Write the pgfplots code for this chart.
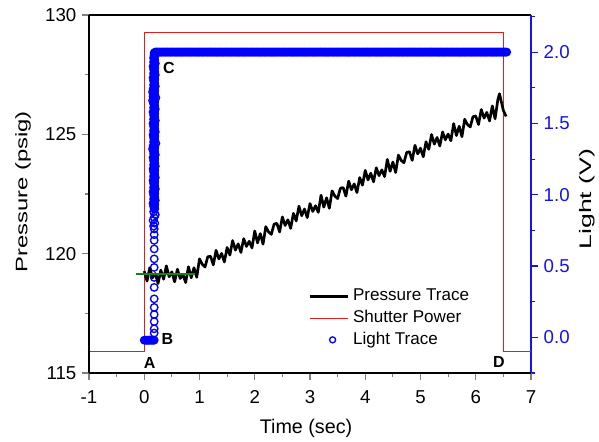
\documentclass[border=0pt]{standalone}
\usepackage{pgfplots}
\pgfplotsset{compat=1.18}
\usepackage{fontspec}
\setmainfont{Liberation Sans}
\usepackage{graphicx}
\definecolor{myred}{RGB}{225,30,30}
\definecolor{mygreen}{RGB}{20,130,20}
\definecolor{myblue}{RGB}{0,0,255}
\definecolor{axblue}{RGB}{20,20,230}
\pgfplotsset{
  longline/.style={legend image code/.code={\draw[##1] (0pt,0pt) -- (29pt,0pt);}},
  circlelegend/.style={legend image code/.code={\node[draw=myblue, circle, line width=1pt, inner sep=0pt, text height=0pt, text depth=0pt, minimum size=4.5pt] at (14.5pt,0pt) {};}},
  commonax/.style={
    scale only axis, width=331.5pt, height=268.5pt,
    xmin=-1, xmax=7,
    /pgf/number format/assume math mode=true,
    tick label style={font=\fontsize{14pt}{16pt}\selectfont},
    tick align=outside,
    major tick length=5pt, minor tick length=3pt,
    tick style={line width=0.8pt},
    axis line style={-, line width=0.9pt},
  },
}
\begin{document}
\begin{tikzpicture}
% right axis: light and shutter power
\begin{axis}[commonax,
  ymin=-0.25, ymax=2.26,
  axis x line*=top, xtick=\empty,
  axis y line*=right,
  x axis line style={black},
  y axis line style={axblue},
  ytick={0,0.5,1,1.5,2},
  minor ytick={-0.25,0.25,0.75,1.25,1.75,2.25},
  y tick style={axblue},
  yticklabel style={axblue, xshift=1pt, /pgf/number format/.cd, fixed, fixed zerofill, precision=1},
  ylabel={\scalebox{1.6}[1]{Light (V)}},
  ylabel style={at={(axis description cs:1.1267,0.486)}, anchor=center, font=\fontsize{12.5pt}{15pt}\selectfont},
  legend style={draw=none, fill=none, at={(axis description cs:0.4955,0.238)}, anchor=north west,
    font=\fontsize{12.8pt}{14pt}\selectfont, inner sep=0pt, row sep=3.8pt,
    nodes={inner xsep=2.6pt, inner ysep=0.5pt, text height=9pt, text depth=2.5pt}},
  legend cell align=left,
]
\addlegendimage{black, line width=2pt, longline}
\addlegendentry{Pressure Trace}
\addplot[myred, line width=0.8pt, longline] coordinates {(-1,-0.1)(0,-0.1)(0,2.14)(6.51,2.14)(6.51,-0.1)(7,-0.1)};
\addlegendentry{Shutter Power}
\addplot[only marks, mark=o, mark size=2.8pt, mark options={line width=1pt, myblue}, forget plot] coordinates {
(0.00,-0.02)(0.02,-0.02)(0.04,-0.02)(0.06,-0.02)(0.08,-0.02)(0.10,-0.02)(0.12,-0.02)(0.14,-0.02)(0.16,-0.02)(0.18,-0.02)
(0.18,0.03)(0.18,0.06)(0.18,0.11)(0.18,0.16)(0.18,0.21)(0.18,0.27)(0.18,0.35)(0.18,0.42)(0.18,0.49)(0.18,0.55)(0.18,0.62)(0.18,0.68)(0.18,0.72)
(0.18,0.76)(0.17,0.78)(0.19,0.80)(0.16,0.82)(0.18,0.84)(0.20,0.86)(0.17,0.88)
(0.19,0.90)(0.18,0.91)(0.17,0.92)(0.19,0.93)(0.16,0.94)(0.18,0.95)(0.20,0.96)(0.17,0.97)(0.19,0.98)(0.18,0.99)
(0.17,1.00)(0.19,1.01)(0.16,1.02)(0.18,1.03)(0.20,1.04)(0.17,1.05)(0.19,1.06)(0.18,1.07)(0.17,1.08)(0.19,1.09)
(0.16,1.10)(0.18,1.11)(0.20,1.12)(0.17,1.13)(0.19,1.14)(0.18,1.15)(0.17,1.16)(0.19,1.17)(0.16,1.18)(0.18,1.19)
(0.20,1.20)(0.17,1.21)(0.19,1.22)(0.18,1.23)(0.17,1.24)(0.19,1.25)(0.16,1.26)(0.18,1.27)(0.20,1.28)(0.17,1.29)
(0.19,1.30)(0.18,1.31)(0.15,1.32)(0.19,1.33)(0.16,1.34)(0.18,1.35)(0.21,1.36)(0.17,1.37)(0.19,1.38)(0.18,1.39)
(0.17,1.40)(0.19,1.41)(0.16,1.42)(0.18,1.43)(0.20,1.44)(0.17,1.45)(0.19,1.46)(0.18,1.47)(0.17,1.48)(0.19,1.49)
(0.16,1.50)(0.18,1.51)(0.20,1.52)(0.17,1.53)(0.19,1.54)(0.18,1.55)(0.17,1.56)(0.19,1.57)(0.16,1.58)(0.18,1.59)
(0.20,1.60)(0.17,1.61)(0.19,1.62)(0.18,1.63)(0.17,1.64)(0.19,1.65)(0.15,1.66)(0.18,1.67)(0.21,1.68)(0.16,1.69)
(0.19,1.70)(0.18,1.71)(0.15,1.72)(0.19,1.73)(0.16,1.74)(0.18,1.75)(0.20,1.76)(0.17,1.77)(0.19,1.78)(0.18,1.79)
(0.17,1.80)(0.19,1.81)(0.16,1.82)(0.18,1.83)(0.20,1.84)(0.17,1.85)(0.19,1.86)(0.18,1.87)(0.17,1.88)(0.19,1.89)
(0.16,1.90)(0.18,1.91)(0.20,1.92)(0.17,1.93)(0.19,1.94)(0.18,1.95)(0.17,1.96)(0.19,1.97)(0.18,1.98)
(0.18,0.905)(0.18,0.915)(0.18,0.925)(0.18,0.935)(0.18,0.945)(0.18,0.955)(0.18,0.965)(0.18,0.975)(0.18,0.985)(0.18,0.995)
(0.18,1.005)(0.18,1.015)(0.18,1.025)(0.18,1.035)(0.18,1.045)(0.18,1.055)(0.18,1.065)(0.18,1.075)(0.18,1.085)(0.18,1.095)
(0.18,1.105)(0.18,1.115)(0.18,1.125)(0.18,1.135)(0.18,1.145)(0.18,1.155)(0.18,1.165)(0.18,1.175)(0.18,1.185)(0.18,1.195)
(0.18,1.205)(0.18,1.215)(0.18,1.225)(0.18,1.235)(0.18,1.245)(0.18,1.255)(0.18,1.265)(0.18,1.275)(0.18,1.285)(0.18,1.295)
(0.18,1.305)(0.18,1.315)(0.18,1.325)(0.18,1.335)(0.18,1.345)(0.18,1.355)(0.18,1.365)(0.18,1.375)(0.18,1.385)(0.18,1.395)
(0.18,1.405)(0.18,1.415)(0.18,1.425)(0.18,1.435)(0.18,1.445)(0.18,1.455)(0.18,1.465)(0.18,1.475)(0.18,1.485)(0.18,1.495)
(0.18,1.505)(0.18,1.515)(0.18,1.525)(0.18,1.535)(0.18,1.545)(0.18,1.555)(0.18,1.565)(0.18,1.575)(0.18,1.585)(0.18,1.595)
(0.18,1.605)(0.18,1.615)(0.18,1.625)(0.18,1.635)(0.18,1.645)(0.18,1.655)(0.18,1.665)(0.18,1.675)(0.18,1.685)(0.18,1.695)
(0.18,1.705)(0.18,1.715)(0.18,1.725)(0.18,1.735)(0.18,1.745)(0.18,1.755)(0.18,1.765)(0.18,1.775)(0.18,1.785)(0.18,1.795)
(0.18,1.805)(0.18,1.815)(0.18,1.825)(0.18,1.835)(0.18,1.845)(0.18,1.855)(0.18,1.865)(0.18,1.875)(0.18,1.885)(0.18,1.895)
(0.18,1.905)(0.18,1.915)(0.18,1.925)(0.18,1.935)(0.18,1.945)(0.18,1.955)(0.18,1.965)(0.18,1.975)(0.18,1.985)(0.18,1.995)
(0.20,2)(0.22,2)(0.24,2)(0.26,2)(0.28,2)(0.30,2)(0.32,2)(0.34,2)(0.36,2)(0.38,2)
(0.40,2)(0.42,2)(0.44,2)(0.46,2)(0.48,2)(0.50,2)(0.52,2)(0.54,2)(0.56,2)(0.58,2)
(0.60,2)(0.62,2)(0.64,2)(0.66,2)(0.68,2)(0.70,2)(0.72,2)(0.74,2)(0.76,2)(0.78,2)
(0.80,2)(0.82,2)(0.84,2)(0.86,2)(0.88,2)(0.90,2)(0.92,2)(0.94,2)(0.96,2)(0.98,2)
(1.00,2)(1.02,2)(1.04,2)(1.06,2)(1.08,2)(1.10,2)(1.12,2)(1.14,2)(1.16,2)(1.18,2)
(1.20,2)(1.22,2)(1.24,2)(1.26,2)(1.28,2)(1.30,2)(1.32,2)(1.34,2)(1.36,2)(1.38,2)
(1.40,2)(1.42,2)(1.44,2)(1.46,2)(1.48,2)(1.50,2)(1.52,2)(1.54,2)(1.56,2)(1.58,2)
(1.60,2)(1.62,2)(1.64,2)(1.66,2)(1.68,2)(1.70,2)(1.72,2)(1.74,2)(1.76,2)(1.78,2)
(1.80,2)(1.82,2)(1.84,2)(1.86,2)(1.88,2)(1.90,2)(1.92,2)(1.94,2)(1.96,2)(1.98,2)
(2.00,2)(2.02,2)(2.04,2)(2.06,2)(2.08,2)(2.10,2)(2.12,2)(2.14,2)(2.16,2)(2.18,2)
(2.20,2)(2.22,2)(2.24,2)(2.26,2)(2.28,2)(2.30,2)(2.32,2)(2.34,2)(2.36,2)(2.38,2)
(2.40,2)(2.42,2)(2.44,2)(2.46,2)(2.48,2)(2.50,2)(2.52,2)(2.54,2)(2.56,2)(2.58,2)
(2.60,2)(2.62,2)(2.64,2)(2.66,2)(2.68,2)(2.70,2)(2.72,2)(2.74,2)(2.76,2)(2.78,2)
(2.80,2)(2.82,2)(2.84,2)(2.86,2)(2.88,2)(2.90,2)(2.92,2)(2.94,2)(2.96,2)(2.98,2)
(3.00,2)(3.02,2)(3.04,2)(3.06,2)(3.08,2)(3.10,2)(3.12,2)(3.14,2)(3.16,2)(3.18,2)
(3.20,2)(3.22,2)(3.24,2)(3.26,2)(3.28,2)(3.30,2)(3.32,2)(3.34,2)(3.36,2)(3.38,2)
(3.40,2)(3.42,2)(3.44,2)(3.46,2)(3.48,2)(3.50,2)(3.52,2)(3.54,2)(3.56,2)(3.58,2)
(3.60,2)(3.62,2)(3.64,2)(3.66,2)(3.68,2)(3.70,2)(3.72,2)(3.74,2)(3.76,2)(3.78,2)
(3.80,2)(3.82,2)(3.84,2)(3.86,2)(3.88,2)(3.90,2)(3.92,2)(3.94,2)(3.96,2)(3.98,2)
(4.00,2)(4.02,2)(4.04,2)(4.06,2)(4.08,2)(4.10,2)(4.12,2)(4.14,2)(4.16,2)(4.18,2)
(4.20,2)(4.22,2)(4.24,2)(4.26,2)(4.28,2)(4.30,2)(4.32,2)(4.34,2)(4.36,2)(4.38,2)
(4.40,2)(4.42,2)(4.44,2)(4.46,2)(4.48,2)(4.50,2)(4.52,2)(4.54,2)(4.56,2)(4.58,2)
(4.60,2)(4.62,2)(4.64,2)(4.66,2)(4.68,2)(4.70,2)(4.72,2)(4.74,2)(4.76,2)(4.78,2)
(4.80,2)(4.82,2)(4.84,2)(4.86,2)(4.88,2)(4.90,2)(4.92,2)(4.94,2)(4.96,2)(4.98,2)
(5.00,2)(5.02,2)(5.04,2)(5.06,2)(5.08,2)(5.10,2)(5.12,2)(5.14,2)(5.16,2)(5.18,2)
(5.20,2)(5.22,2)(5.24,2)(5.26,2)(5.28,2)(5.30,2)(5.32,2)(5.34,2)(5.36,2)(5.38,2)
(5.40,2)(5.42,2)(5.44,2)(5.46,2)(5.48,2)(5.50,2)(5.52,2)(5.54,2)(5.56,2)(5.58,2)
(5.60,2)(5.62,2)(5.64,2)(5.66,2)(5.68,2)(5.70,2)(5.72,2)(5.74,2)(5.76,2)(5.78,2)
(5.80,2)(5.82,2)(5.84,2)(5.86,2)(5.88,2)(5.90,2)(5.92,2)(5.94,2)(5.96,2)(5.98,2)
(6.00,2)(6.02,2)(6.04,2)(6.06,2)(6.08,2)(6.10,2)(6.12,2)(6.14,2)(6.16,2)(6.18,2)
(6.20,2)(6.22,2)(6.24,2)(6.26,2)(6.28,2)(6.30,2)(6.32,2)(6.34,2)(6.36,2)(6.38,2)
(6.40,2)(6.42,2)(6.44,2)(6.46,2)(6.48,2)(6.50,2)(6.52,2)(6.54,2)(6.56,2)
};
\addlegendimage{circlelegend}
\addlegendentry{Light Trace}
\end{axis}
% left axis: pressure
\begin{axis}[commonax,
  ymin=115, ymax=130,
  axis x line*=bottom, axis y line*=left,
  xtick={-1,0,1,2,3,4,5,6,7}, minor x tick num=1,
  ytick={115,120,125,130}, minor y tick num=1,
  xticklabel style={yshift=-4.5pt},
  yticklabel style={xshift=-1pt},
  xlabel={Time (sec)},
  xlabel style={at={(axis description cs:0.491,-0.1536)}, anchor=center, font=\fontsize{14.8pt}{17pt}\selectfont},
  ylabel={\scalebox{1.43}[1]{Pressure (psig)}},
  ylabel style={at={(axis description cs:-0.1493,0.5056)}, anchor=center, font=\fontsize{12.5pt}{15pt}\selectfont},
  clip=false,
]
\addplot[black, line width=2pt, line join=round] coordinates {
(0.00,119.27)(0.05,118.85)(0.10,119.41)(0.15,118.99)(0.20,119.17)(0.25,118.75)(0.30,119.31)(0.35,118.93)(0.40,119.49)(0.45,119.03)
(0.50,119.24)(0.55,118.82)(0.60,119.35)(0.65,118.96)(0.70,119.13)(0.75,118.79)(0.80,119.45)(0.85,118.99)(0.90,119.41)(0.95,119.01)
(1.00,119.78)(1.05,119.56)(1.10,119.44)(1.15,119.87)(1.20,119.89)(1.25,119.53)(1.30,120.14)(1.35,119.78)(1.40,120.01)(1.45,119.65)
(1.50,120.26)(1.55,119.94)(1.60,120.55)(1.65,120.15)(1.70,120.41)(1.75,120.05)(1.80,120.63)(1.85,120.30)(1.90,120.52)(1.95,120.24)
(2.00,120.95)(2.05,120.45)(2.10,120.84)(2.15,120.40)(2.20,121.13)(2.25,120.91)(2.30,120.81)(2.35,121.24)(2.40,121.27)(2.45,120.91)
(2.50,121.54)(2.55,121.18)(2.60,121.42)(2.65,121.06)(2.70,121.69)(2.75,121.37)(2.80,121.99)(2.85,121.59)(2.90,121.87)(2.95,121.51)
(3.00,122.10)(3.05,121.77)(3.10,122.01)(3.15,121.73)(3.20,122.45)(3.25,121.95)(3.30,122.34)(3.35,121.90)(3.40,122.63)(3.45,122.41)
(3.50,122.31)(3.55,122.74)(3.60,122.77)(3.65,122.41)(3.70,123.04)(3.75,122.68)(3.80,122.92)(3.85,122.56)(3.90,123.19)(3.95,122.87)
(4.00,123.49)(4.05,123.09)(4.10,123.37)(4.15,123.01)(4.20,123.60)(4.25,123.27)(4.30,123.51)(4.35,123.23)(4.40,123.95)(4.45,123.45)
(4.50,123.84)(4.55,123.40)(4.60,124.13)(4.65,123.91)(4.70,123.81)(4.75,124.24)(4.80,124.27)(4.85,123.91)(4.90,124.54)(4.95,124.18)
(5.00,124.42)(5.05,124.06)(5.10,124.69)(5.15,124.37)(5.20,124.99)(5.25,124.59)(5.30,124.87)(5.35,124.51)(5.40,125.10)(5.45,124.77)
(5.50,125.01)(5.55,124.73)(5.60,125.45)(5.65,124.95)(5.70,125.34)(5.75,124.90)(5.80,125.63)(5.85,125.41)(5.90,125.31)(5.95,125.74)
(6.00,125.77)(6.05,125.41)(6.10,126.04)(6.15,125.68)(6.20,125.92)(6.25,125.56)(6.30,126.19)(6.35,125.65)(6.40,126.45)(6.43,126.70)
(6.47,126.30)(6.50,126.00)(6.55,125.75)
};
\addplot[mygreen, line width=1.5pt] coordinates {(-0.15,119.15)(0.92,119.15)};
\node[font=\bfseries\fontsize{12pt}{14pt}\selectfont] at (axis cs:0.10,115.41) {A};
\node[font=\bfseries\fontsize{12pt}{14pt}\selectfont] at (axis cs:0.42,116.43) {B};
\node[font=\bfseries\fontsize{12pt}{14pt}\selectfont] at (axis cs:0.445,127.77) {C};
\node[font=\bfseries\fontsize{12pt}{14pt}\selectfont] at (axis cs:6.42,115.45) {D};
\end{axis}
\pgfresetboundingbox
\path (-66.75pt,-51.75pt) rectangle (382.5pt,279.75pt);
\end{tikzpicture}
\end{document}
